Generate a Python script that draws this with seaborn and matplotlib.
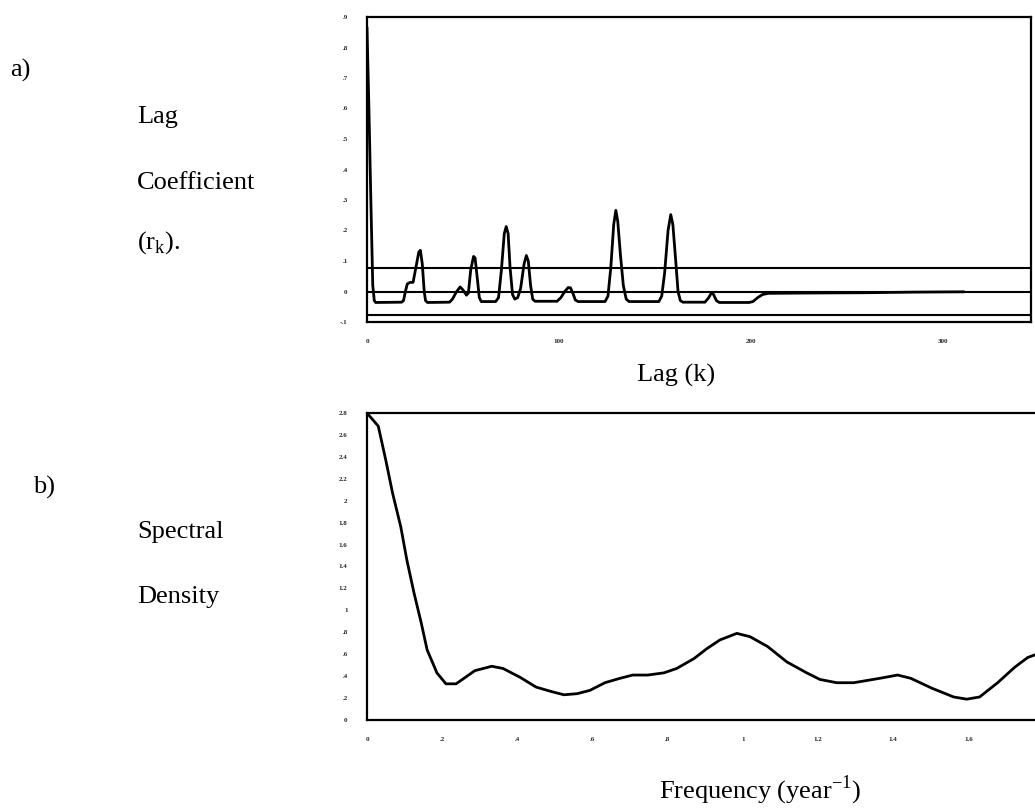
import numpy as np
import pandas as pd
import matplotlib
matplotlib.use("Agg")
import matplotlib.pyplot as plt
import seaborn as sns

sns.set_theme(style="white")
plt.rcParams['font.family'] = ['Liberation Serif', 'DejaVu Serif']

# ---- a) sample autocorrelation function r_k against lag k ----
lag_k = [0, 1, 2, 3, 3.8, 4.5, 18, 19, 20, 21, 22.5, 24, 25.5, 27, 27.8, 28.8,
         29.8, 30.5, 31.5, 43, 44.5, 46.5, 48.5, 50, 51.8, 52.8, 54, 55.5, 56.3,
         57.5, 58.5, 59.5, 67, 68.5, 70, 71.5, 72.5, 73.5, 74.5, 75.8, 77, 78.5,
         80, 81.8, 83, 84, 85.2, 86.3, 87.5, 99, 101, 103, 104.8, 106, 107.5,
         108.5, 110, 124, 125.5, 127, 128.5, 129.6, 130.6, 132, 133.5, 135,
         136.5, 152, 153.5, 155, 156.8, 158.2, 159.3, 160.8, 162, 163.2, 164.5,
         176, 178, 179.5, 180.5, 182, 183.5, 199, 201, 203.5, 206, 209, 230,
         260, 285, 311]
r_k = [0.866, 0.60, 0.30, 0.02, -0.03, -0.036, -0.035, -0.03, 0.0, 0.025, 0.03,
       0.03, 0.08, 0.13, 0.135, 0.09, 0.0, -0.03, -0.036, -0.035, -0.025, -0.002,
       0.015, 0.005, -0.012, -0.005, 0.07, 0.115, 0.11, 0.04, -0.02, -0.033,
       -0.033, -0.02, 0.07, 0.19, 0.213, 0.19, 0.08, -0.01, -0.025, -0.02, 0.01,
       0.09, 0.118, 0.10, 0.02, -0.025, -0.032, -0.032, -0.02, 0.0, 0.013,
       0.012, -0.01, -0.028, -0.033, -0.033, -0.015, 0.08, 0.22, 0.266, 0.23,
       0.12, 0.02, -0.025, -0.033, -0.033, -0.015, 0.06, 0.20, 0.252, 0.22,
       0.10, 0.0, -0.03, -0.035, -0.035, -0.02, -0.003, -0.01, -0.03, -0.036,
       -0.036, -0.033, -0.02, -0.01, -0.006, -0.005, -0.004, -0.002, -0.001]
conf_limit = 0.078

lag_ticks = [0, 50, 100, 150, 200, 250, 300]
lag_labels = ["0", "", "100", "", "200", "", "300"]
r_ticks = [-0.1, 0, 0.1, 0.2, 0.3, 0.4, 0.5, 0.6, 0.7, 0.8, 0.9]
r_labels = ["-.1", "0", ".1", ".2", ".3", ".4", ".5", ".6", ".7", ".8", ".9"]

# ---- b) spectral density against frequency (year^-1) ----
freq = [0.0, 0.03, 0.05, 0.068, 0.09, 0.106, 0.125, 0.144, 0.16, 0.186, 0.21,
        0.237, 0.258, 0.287, 0.332, 0.362, 0.407, 0.45, 0.49, 0.524, 0.559,
        0.593, 0.633, 0.673, 0.707, 0.747, 0.79, 0.824, 0.87, 0.904, 0.939,
        0.984, 1.019, 1.066, 1.117, 1.17, 1.205, 1.25, 1.295, 1.364, 1.412,
        1.447, 1.503, 1.561, 1.596, 1.63, 1.678, 1.723, 1.758, 1.79, 1.82]
spec_density = [2.8, 2.68, 2.37, 2.07, 1.76, 1.46, 1.16, 0.89, 0.64, 0.43, 0.33,
                0.33, 0.38, 0.45, 0.49, 0.47, 0.39, 0.30, 0.26, 0.23, 0.24,
                0.27, 0.34, 0.38, 0.41, 0.41, 0.43, 0.47, 0.56, 0.65, 0.73,
                0.79, 0.76, 0.67, 0.53, 0.43, 0.37, 0.34, 0.34, 0.38, 0.41,
                0.38, 0.29, 0.21, 0.19, 0.21, 0.34, 0.48, 0.57, 0.61, 0.63]

f_ticks = [round(0.1 * i, 1) for i in range(19)]
f_labels = ["0", "", ".2", "", ".4", "", ".6", "", ".8", "", "1", "", "1.2", "",
            "1.4", "", "1.6", "", "1.8"]
s_ticks = [round(0.2 * i, 1) for i in range(15)]
s_labels = ["0", ".2", ".4", ".6", ".8", "1", "1.2", "1.4", "1.6", "1.8", "2",
            "2.2", "2.4", "2.6", "2.8"]

acf = pd.DataFrame({"lag": lag_k, "r": r_k})
spec = pd.DataFrame({"freq": freq, "density": spec_density})

W, H = 1035, 810
fig = plt.figure(figsize=(W / 100, H / 100), dpi=100)
fig.patch.set_facecolor("white")


def box(left, top, right, bottom):
    return [left / W, 1 - bottom / H, (right - left) / W, (bottom - top) / H]


ax1 = fig.add_axes(box(367, 17, 1031, 322))
ax2 = fig.add_axes(box(367, 413, 1051, 720))

for ax in (ax1, ax2):
    ax.set_facecolor("white")
    ax.grid(False)
    for side in ("left", "bottom", "top", "right"):
        ax.spines[side].set_color("black")
        ax.spines[side].set_linewidth(1.6)
    ax.tick_params(axis="both", which="major", direction="out", length=8,
                   width=1.6, color="black", labelsize=5, pad=4)
    ax.tick_params(axis="y", length=10)

# Panel a
sns.lineplot(data=acf, x="lag", y="r", ax=ax1, color="black", linewidth=2.0,
             estimator=None, sort=False)
for level in (conf_limit, 0.0, -conf_limit):
    ax1.axhline(level, color="black", linewidth=1.5)
ax1.set_xlim(0, (1031 - 367) / 1.92)
ax1.set_ylim(-0.1, 0.9)
ax1.set_xticks(lag_ticks)
ax1.set_xticklabels(lag_labels, fontweight="bold")
ax1.set_yticks(r_ticks)
ax1.set_yticklabels(r_labels, fontweight="bold")
ax1.set_xlabel("")
ax1.set_ylabel("")

# Panel b
sns.lineplot(data=spec, x="freq", y="density", ax=ax2, color="black",
             linewidth=2.0, estimator=None, sort=False)
ax2.set_xlim(0, 1.82)
ax2.set_ylim(0, 2.8)
ax2.set_xticks(f_ticks)
ax2.set_xticklabels(f_labels, fontweight="bold")
ax2.set_yticks(s_ticks)
ax2.set_yticklabels(s_labels, fontweight="bold")
ax2.set_xlabel("")
ax2.set_ylabel("")

txt = dict(color="black", fontsize=19, va="center", ha="left")
fig.text(10 / W, 1 - 70 / H, "a)", **txt)
fig.text(137 / W, 1 - 117 / H, "Lag", **txt)
fig.text(137 / W, 1 - 183 / H, "Coefficient", **txt)
fig.text(137 / W, 1 - 243 / H, "(r$_\\mathregular{k}$).", **txt)
fig.text(676 / W, 1 - 375 / H, "Lag (k)", color="black", fontsize=19,
         ha="center", va="center")

fig.text(33 / W, 1 - 487 / H, "b)", **txt)
fig.text(137 / W, 1 - 532 / H, "Spectral", **txt)
fig.text(137 / W, 1 - 597 / H, "Density", **txt)
fig.text(760 / W, 1 - 790 / H, "Frequency (year$^\\mathregular{-1}$)",
         color="black", fontsize=19, ha="center", va="center")

fig.savefig("out.png", dpi=100, facecolor="white")
